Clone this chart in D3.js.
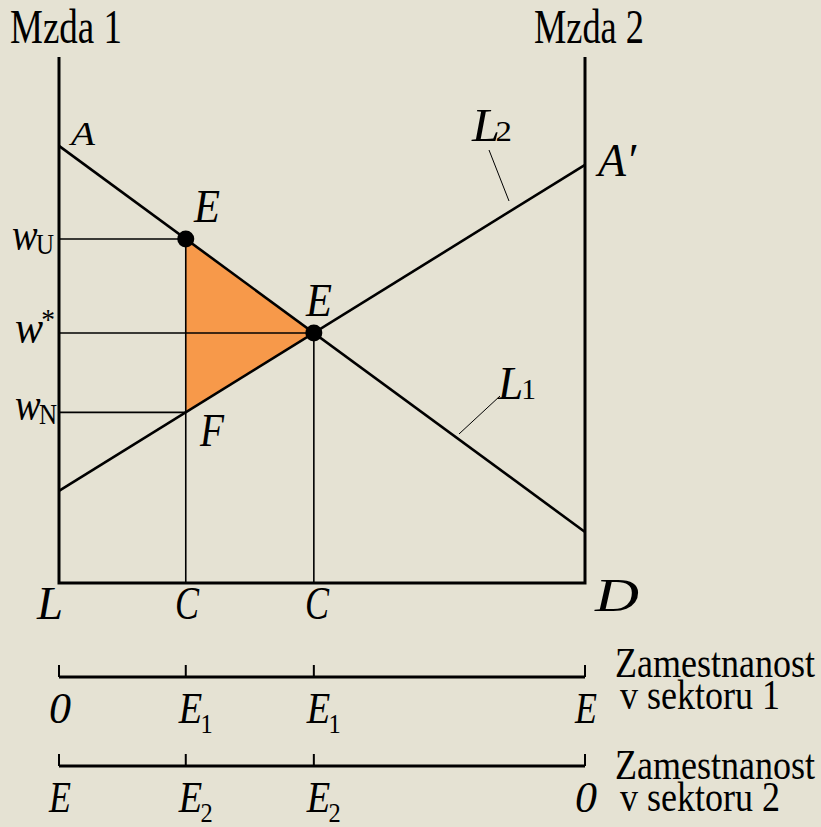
<!DOCTYPE html>
<html>
<head>
<meta charset="utf-8">
<script src="https://cdn.jsdelivr.net/npm/d3@7"></script>
<style>
  body { margin:0; background:#e5e2d3; }
  svg { display:block; }
  text { font-family:"Liberation Serif", "DejaVu Serif", serif; fill:#000; }
  .it { font-style:italic; }
</style>
</head>
<body>
<svg id="chart" width="821" height="827"></svg>
<script>
// wages on the two demand lines at employment 0 and at full employment (L bar)
const demandSector1 = [83.1, 9.7];
const demandSector2 = [17.5, 79.5];
const unionEmployment = 24.1;   // employment in sector 1 with union wage
const axisTicks1 = ["0", "E", "E", "E"];
const axisTicks2 = ["E", "E", "E", "0"];
const axisSubs1 = ["", "1", "1", ""];
const axisSubs2 = ["", "2", "2", ""];
const axisTitles = [["Zamestnanost", "v sektoru 1"], ["Zamestnanost", "v sektoru 2"]];

const svg = d3.select("#chart");
const W = 821, H = 827;

svg.append("rect").attr("width", W).attr("height", H).attr("fill", "#e5e2d3");

const x = d3.scaleLinear().domain([0, 100]).range([59, 585]);
const y = d3.scaleLinear().domain([0, 100]).range([583, 57]);

const line1 = v => demandSector1[0] + (demandSector1[1] - demandSector1[0]) * v / 100;
const line2 = v => demandSector2[0] + (demandSector2[1] - demandSector2[0]) * v / 100;

// equilibrium where both demand lines cross
const eqX = 100 * (demandSector1[0] - demandSector2[0]) /
  ((demandSector2[1] - demandSector2[0]) - (demandSector1[1] - demandSector1[0]));
const eqW = line1(eqX);
const wU = line1(unionEmployment);
const wN = line2(unionEmployment);

// deadweight triangle
svg.append("path")
  .attr("d", d3.line()([[x(unionEmployment), y(wU)], [x(eqX), y(eqW)], [x(unionEmployment), y(wN)]]))
  .attr("fill", "#f7994a");

// guide lines
const guides = [
  [[0, wU], [unionEmployment, wU]],
  [[0, eqW], [eqX, eqW]],
  [[0, wN], [unionEmployment, wN]],
  [[unionEmployment, wU], [unionEmployment, 0]],
  [[eqX, eqW], [eqX, 0]]
];
svg.append("g").selectAll("path").data(guides).join("path")
  .attr("d", d => d3.line()(d.map(p => [x(p[0]), y(p[1])])))
  .attr("stroke", "#000").attr("stroke-width", 1.6).attr("fill", "none");

// box axes
svg.append("path")
  .attr("d", d3.line()([[x(0), y(100)], [x(0), y(0)], [x(100), y(0)], [x(100), y(100)]]))
  .attr("stroke", "#000").attr("stroke-width", 3).attr("fill", "none");

// demand lines
svg.append("line")
  .attr("x1", x(0)).attr("y1", y(demandSector1[0]))
  .attr("x2", x(100)).attr("y2", y(demandSector1[1]))
  .attr("stroke", "#000").attr("stroke-width", 2.6);
svg.append("line")
  .attr("x1", x(0)).attr("y1", y(demandSector2[0]))
  .attr("x2", x(100)).attr("y2", y(demandSector2[1]))
  .attr("stroke", "#000").attr("stroke-width", 2.6);

// leader lines for L1 and L2
svg.append("line").attr("x1", 489).attr("y1", 150).attr("x2", 509).attr("y2", 201)
  .attr("stroke", "#000").attr("stroke-width", 1);
svg.append("line").attr("x1", 500).attr("y1", 396).attr("x2", 459).attr("y2", 434)
  .attr("stroke", "#000").attr("stroke-width", 1);

// points
svg.append("g").selectAll("circle")
  .data([[unionEmployment, wU], [eqX, eqW]])
  .join("circle")
  .attr("cx", d => x(d[0])).attr("cy", d => y(d[1])).attr("r", 8.5)
  .attr("fill", "#000");

// squeezed text helper
function label(px, py, txt, size, len, italic, anchor) {
  const t = svg.append("text")
    .attr("x", px).attr("y", py)
    .attr("font-size", size)
    .attr("text-anchor", anchor || "start")
    .attr("class", italic ? "it" : null)
    .text(txt);
  if (len) t.attr("textLength", len).attr("lengthAdjust", "spacingAndGlyphs");
  return t;
}
function subLabel(px, py, main, sub, size, len, subSize, dx, dy) {
  const t = label(px, py, "", size, null, true);
  t.append("tspan").text(main);
  t.append("tspan").attr("dx", dx || 0).attr("dy", dy).attr("font-size", subSize)
    .attr("font-style", "normal").text(sub);
  if (len) t.attr("textLength", len).attr("lengthAdjust", "spacingAndGlyphs");
}

label(10, 43, "Mzda 1", 48, 112);
label(534, 43, "Mzda 2", 48, 110);

label(71, 145, "A", 34, 24, true);
label(598, 176, "A′", 46, 38, true);
label(194, 222, "E", 46, 26, true);
label(306, 316, "E", 46, 26, true);
label(200, 446, "F", 46, 24, true);
subLabel(472, 141, "L", "2", 46, 40, 30, -4, 0);
subLabel(498, 399, "L", "1", 46, 38, 30, -2, 0);

subLabel(12, 250, "w", "U", 46, 42, 30, -2, 4);
subLabel(15, 343, "w", "*", 46, 40, 30, -2, -14);
subLabel(15, 420, "w", "N", 46, 42, 30, -2, 4);

label(37, 619, "L", 46, 26, true);
label(175, 619, "C", 46, 24, true);
label(305, 619, "C", 46, 24, true);
label(595, 611, "D", 46, 44, true);

// employment axes
const tickPos = [0, unionEmployment, eqX, 100];
[
  { yy: 677, ticks: axisTicks1, subs: axisSubs1, titleY: 677 },
  { yy: 766, ticks: axisTicks2, subs: axisSubs2, titleY: 779 }
].forEach((a, i) => {
  svg.append("line").attr("x1", x(0)).attr("x2", x(100)).attr("y1", a.yy).attr("y2", a.yy)
    .attr("stroke", "#000").attr("stroke-width", 3);
  svg.append("g").selectAll("line").data(tickPos).join("line")
    .attr("x1", d => x(d)).attr("x2", d => x(d))
    .attr("y1", a.yy).attr("y2", a.yy - 12)
    .attr("stroke", "#000").attr("stroke-width", 2);
  tickPos.forEach((d, j) => {
    const px = x(d) - (j === 0 ? 10 : j === 3 ? 10 : 7);
    const by = a.yy + 46;
    if (a.subs[j]) subLabel(px, by, a.ticks[j], a.subs[j], 44, 34, 28, -2, 10);
    else label(px, by, a.ticks[j], 44, 22, true);
  });
  label(615, a.titleY, axisTitles[i][0], 42, 200);
  label(620, a.titleY + 32, axisTitles[i][1], 42, 160);
});
</script>
</body>
</html>
